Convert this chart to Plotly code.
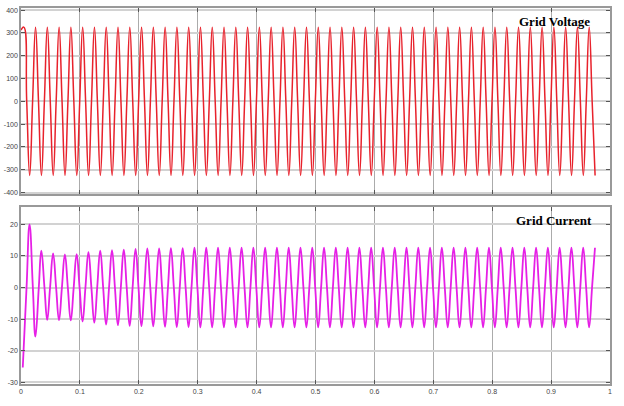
import plotly.graph_objects as go

# ---------------- data ----------------
# Grid voltage: extrema (V) every half cycle, starting t = 0.0047 s, step 0.01 s
voltage_start = [0.0, 312]
voltage_extrema = [
    325, -325, 325, -325, 325, -325, 325, -325, 325, -325,
    325, -325, 325, -325, 325, -325, 325, -325, 325, -325,
    325, -325, 325, -325, 325, -325, 325, -325, 325, -325,
    325, -325, 325, -325, 325, -325, 325, -325, 325, -325,
    325, -325, 325, -325, 325, -325, 325, -325, 325, -325,
    325, -325, 325, -325, 325, -325, 325, -325, 325, -325,
    325, -325, 325, -325, 325, -325, 325, -325, 325, -325,
    325, -325, 325, -325, 325, -325, 325, -325, 325, -325,
    325, -325, 325, -325, 325, -325, 325, -325, 325, -325,
    325, -325, 325, -325, 325, -325, 325, -325,
]
voltage_t0 = 0.0047

# Grid current: start point, then extrema (A) every half cycle from t = 0.0145 s
current_start = [0.003, -25.3]
current_extrema = [
    20.0, -15.5, 11.7, -10.2, 10.8, -10.3, 10.5, -10.4, 10.6, -10.7,
    11.2, -11.1, 11.7, -11.7, 11.8, -11.9, 12.0, -12.1, 12.2, -12.2,
    12.4, -12.3, 12.4, -12.4, 12.5, -12.5, 12.5, -12.5, 12.6, -12.6,
    12.6, -12.6, 12.6, -12.6, 12.6, -12.6, 12.6, -12.6, 12.6, -12.6,
    12.6, -12.6, 12.6, -12.6, 12.6, -12.6, 12.6, -12.6, 12.6, -12.6,
    12.6, -12.6, 12.6, -12.6, 12.6, -12.6, 12.6, -12.6, 12.6, -12.6,
    12.6, -12.6, 12.6, -12.6, 12.6, -12.6, 12.6, -12.6, 12.6, -12.6,
    12.6, -12.6, 12.6, -12.6, 12.6, -12.6, 12.6, -12.6, 12.6, -12.6,
    12.6, -12.6, 12.6, -12.6, 12.6, -12.6, 12.6, -12.6, 12.6, -12.6,
    12.6, -12.6, 12.6, -12.6, 12.6, -12.6, 12.6,
]
current_t0 = 0.0145
half_period = 0.01

x_ticks = [0, 0.1, 0.2, 0.3, 0.4, 0.5, 0.6, 0.7, 0.8, 0.9, 1]
x_tick_labels = ["0", "0.1", "0.2", "0.3", "0.4", "0.5", "0.6", "0.7", "0.8", "0.9", "1"]
v_ticks = [400, 300, 200, 100, 0, -100, -200, -300, -400]
i_ticks = [20, 10, 0, -10, -20, -30]


def build(start, t0, extrema):
    """Connect the read extrema through their zero crossings."""
    xs, ys = [start[0]], [start[1]]
    times = [t0 + k * half_period for k in range(len(extrema))]
    prev_t, prev_v = start
    for t, v in zip(times, extrema):
        if (prev_v > 0) != (v > 0):
            frac = abs(prev_v) / (abs(prev_v) + abs(v))
            xs.append(prev_t + (t - prev_t) * frac)
            ys.append(0)
        xs.append(t)
        ys.append(v)
        prev_t, prev_v = t, v
    return xs, ys


vx, vy = build(voltage_start, voltage_t0, voltage_extrema)
ix, iy = build(current_start, current_t0, current_extrema)

fig = go.Figure()
fig.add_trace(go.Scatter(x=vx, y=vy, mode="lines",
                         line=dict(color="#e8222c", width=1.5, shape="spline", smoothing=1.3),
                         xaxis="x", yaxis="y", showlegend=False, hoverinfo="skip"))
fig.add_trace(go.Scatter(x=ix, y=iy, mode="lines",
                         line=dict(color="#e620e6", width=1.8, shape="spline", smoothing=1.3),
                         xaxis="x2", yaxis="y2", showlegend=False, hoverinfo="skip"))

tickfont = dict(family="Liberation Sans", size=7, color="#444444")
common_x = dict(range=[0, 1], tickvals=x_ticks, ticktext=x_tick_labels, showgrid=True,
                gridcolor="#ababab", gridwidth=1, showline=True, linecolor="#999999", linewidth=1.5,
                mirror="ticks", ticks="inside", ticklen=4, tickcolor="#555555", tickfont=tickfont,
                zeroline=False, automargin=False)
common_y = dict(showgrid=True, gridcolor="#d2d2d2", gridwidth=1.5, showline=True, linecolor="#999999",
                linewidth=1.5, mirror="ticks", ticks="inside", ticklen=4, tickcolor="#555555",
                tickfont=tickfont, zeroline=False, automargin=False)

fig.update_layout(
    width=624, height=406,
    margin=dict(l=21, r=14, t=8, b=22, autoexpand=False),
    paper_bgcolor="white", plot_bgcolor="white",
    xaxis=dict(common_x, domain=[0, 1], anchor="y", showticklabels=False),
    yaxis=dict(common_y, domain=[0.505, 1.0], range=[-407, 409], tickvals=v_ticks,
               ticktext=[str(v) for v in v_ticks], anchor="x"),
    xaxis2=dict(common_x, domain=[0, 1], anchor="y2"),
    yaxis2=dict(common_y, domain=[0.0, 0.47], range=[-30.5, 25.4], tickvals=i_ticks,
                ticktext=[str(v) for v in i_ticks], anchor="x2"),
    annotations=[
        dict(text="<b>Grid Voltage</b>", xref="paper", yref="paper", x=0.905, y=0.965,
             xanchor="center", yanchor="middle",
             showarrow=False, font=dict(family="Liberation Serif", size=13, color="black")),
        dict(text="<b>Grid Current</b>", xref="paper", yref="paper", x=0.905, y=0.434,
             xanchor="center", yanchor="middle",
             showarrow=False, font=dict(family="Liberation Serif", size=13, color="black")),
    ],
)

fig.write_html("out.html", config={"displayModeBar": False},
               post_script="document.body.style.margin='0';")
